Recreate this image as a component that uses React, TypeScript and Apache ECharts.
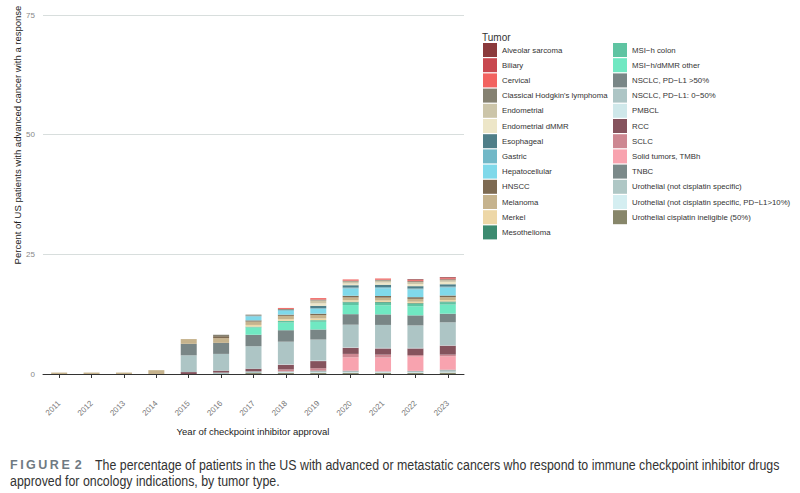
import React, { useEffect, useRef } from "react";
import * as echarts from "echarts";

const years = ["2011","2012","2013","2014","2015","2016","2017","2018","2019","2020","2021","2022","2023"];

// Legend order (alphabetical, as in the reference)
const tumorNames = [
  "Alveolar sarcoma",
  "Biliary",
  "Cervical",
  "Classical Hodgkin's lymphoma",
  "Endometrial",
  "Endometrial dMMR",
  "Esophageal",
  "Gastric",
  "Hepatocellular",
  "HNSCC",
  "Melanoma",
  "Merkel",
  "Mesothelioma",
  "MSI\u2212h colon",
  "MSI\u2212h/dMMR other",
  "NSCLC, PD\u2212L1 >50%",
  "NSCLC, PD\u2212L1: 0\u221250%",
  "PMBCL",
  "RCC",
  "SCLC",
  "Solid tumors, TMBh",
  "TNBC",
  "Urothelial (not cisplatin specific)",
  "Urothelial (not cisplatin specific, PD\u2212L1>10%)",
  "Urothelial cisplatin ineligible (50%)",
];

const tumorColors = [
  "#8b3a3c", "#c8484f", "#f2625f", "#858171", "#ccc5a9", "#ede6c8", "#4f7e88",
  "#72b8c7", "#80d9ea", "#7d6a52", "#c6b38d", "#edd7a7", "#3c8b70", "#5fc4a2",
  "#70e8c2", "#798686", "#adc5c5", "#cfe8ea", "#85535d", "#cd8791", "#f8a3af",
  "#7b8989", "#afc7c5", "#d4eef1", "#87866a",
];

// Percent of patients responding, 2011..2023
const alveolarSarcoma = [0,0,0,0,0,0,0,0,0,0,0,0.12,0.12];
const biliary =         [0,0,0,0,0,0,0,0,0,0,0,0.1,0.15];
const cervical =        [0,0,0,0,0,0,0,0.2,0.3,0.25,0.25,0.2,0.2];
const classicalHodgkin =[0,0,0,0,0,0.3,0.2,0.2,0.2,0.2,0.2,0.2,0.2];
const endometrial =     [0,0,0,0,0,0,0,0,0.6,0.4,0.4,0.4,0.35];
const endometrialDMMR = [0,0,0,0,0,0,0,0,0.5,0.35,0.45,0.45,0.5];
const esophageal =      [0,0,0,0,0,0,0,0,0.5,0.5,0.5,0.5,0.5];
const gastric =         [0,0,0,0,0,0,0.2,0.2,0.15,0.2,0.25,0.2,0.2];
const hepatocellular =  [0,0,0,0,0,0,0.8,0.8,1.0,1.5,1.6,1.6,1.65];
const hnscc =           [0,0,0,0,0,0.4,0.25,0.25,0.3,0.35,0.35,0.35,0.35];
const melanoma =        [0.3,0.3,0.3,0.8,1.0,1.0,0.7,0.7,0.7,0.6,0.6,0.6,0.6];
const merkel =          [0,0,0,0,0,0,0.35,0.35,0.35,0.3,0.3,0.3,0.3];
const mesothelioma =    [0,0,0,0,0,0,0,0,0,0.15,0.15,0.15,0.15];
const msiColon =        [0,0,0,0,0,0,0.2,0.35,0.35,0.55,0.55,0.5,0.5];
const msiOther =        [0,0,0,0,0,0,1.5,1.6,1.6,1.9,1.9,1.9,1.9];
const nsclcHigh =       [0,0,0,0,2.4,2.3,2.4,2.4,2.1,2.2,2.2,2.1,1.8];
const nsclcLow =        [0,0,0,0,3.5,3.5,4.7,4.7,4.4,4.7,4.8,4.7,4.75];
const pmbcl =           [0,0,0,0,0,0,0,0.1,0.1,0.1,0.1,0.1,0.1];
const rcc =             [0,0,0,0,0.4,0.4,0.55,1.0,1.5,1.3,1.3,1.4,1.9];
const sclc =            [0,0,0,0,0,0,0,0.4,0.5,0.7,0.6,0.3,0.35];
const solidTMBh =       [0,0,0,0,0,0,0,0,0,2.8,2.9,3.0,2.8];
const tnbc =            [0,0,0,0,0,0,0,0,0.15,0.15,0,0.1,0.15];
const urothelial =      [0,0,0,0,0,0.3,0.35,0.2,0.2,0.2,0.2,0.2,0.3];
const urothelialPDL1 =  [0,0,0,0,0,0,0,0.15,0.15,0.15,0.15,0.15,0.15];
const urothelialCis =   [0,0,0,0,0,0,0.2,0.2,0.2,0.2,0.2,0.2,0.3];

const tumorValues = [
  alveolarSarcoma, biliary, cervical, classicalHodgkin, endometrial, endometrialDMMR,
  esophageal, gastric, hepatocellular, hnscc, melanoma, merkel, mesothelioma,
  msiColon, msiOther, nsclcHigh, nsclcLow, pmbcl, rcc, sclc, solidTMBh, tnbc,
  urothelial, urothelialPDL1, urothelialCis,
];

const yTicks = [0, 25, 50, 75];

const FONT = "'Liberation Sans', Arial, Helvetica, sans-serif";

export default function App() {
  const ref = useRef<HTMLDivElement>(null);

  useEffect(() => {
    document.body.style.margin = "0";
    if (!ref.current) return;
    const chart = echarts.init(ref.current, null, { renderer: "svg" });

    // ggplot stacks the first factor level on top: add series in reverse order
    const series: any[] = [];
    for (let i = tumorNames.length - 1; i >= 0; i--) {
      series.push({
        name: tumorNames[i],
        type: "bar",
        stack: "all",
        barWidth: 16,
        data: tumorValues[i],
        itemStyle: { color: tumorColors[i] },
      });
    }

    const legendCommon = {
      orient: "vertical",
      itemWidth: 14,
      itemHeight: 14,
      itemGap: 1.2,
      padding: 0,
      icon: "rect",
      selectedMode: false,
      textStyle: { fontSize: 7.8, color: "#333", fontFamily: FONT },
    };

    const captionFont = "'Liberation Sans Narrow', 'Liberation Sans', sans-serif";

    chart.setOption({
      animation: false,
      backgroundColor: "#ffffff",
      color: tumorColors,
      grid: { left: 43, width: 421, top: 15, height: 359 },
      legend: [
        { ...legendCommon, left: 483, top: 43, data: tumorNames.slice(0, 13) },
        { ...legendCommon, left: 613, top: 43, data: tumorNames.slice(13) },
      ],
      xAxis: {
        type: "category",
        data: years,
        offset: 24,
        axisLine: { show: true, lineStyle: { color: "#333", width: 1 } },
        axisTick: { show: true, alignWithLabel: true, length: 4, lineStyle: { color: "#333" } },
        axisLabel: { rotate: 45, fontSize: 8, color: "#777", fontFamily: FONT, margin: 4 },
      },
      yAxis: {
        type: "value",
        min: 0,
        max: 75,
        interval: 25,
        axisLine: { show: false },
        axisTick: { show: false },
        axisLabel: {
          fontSize: 8,
          color: "#888",
          fontFamily: FONT,
          margin: 8,
          customValues: yTicks,
        },
        splitLine: { show: true, lineStyle: { color: "#d8dedd", width: 1 } },
      },
      graphic: [
        {
          type: "text",
          left: 482,
          top: 32,
          style: { text: "Tumor", fontSize: 10, fill: "#333", fontFamily: FONT },
        },
        {
          type: "text",
          x: 17,
          y: 135,
          rotation: Math.PI / 2,
          style: {
            text: "Percent of US patients with advanced cancer with a response",
            fontSize: 9.5,
            fill: "#222",
            fontFamily: FONT,
            align: "center",
            verticalAlign: "middle",
          },
        },
        {
          type: "text",
          x: 253,
          y: 431,
          style: {
            text: "Year of checkpoint inhibitor approval",
            fontSize: 9.5,
            fill: "#222",
            fontFamily: FONT,
            align: "center",
            verticalAlign: "middle",
          },
        },
        {
          type: "text",
          x: 10,
          y: 465,
          style: {
            text: "F\u2009I\u2009G\u2009U\u2009R\u2009E\u2009\u20092",
            fontSize: 12.5,
            fontWeight: "bold",
            fill: "#6f7a82",
            fontFamily: captionFont,
            verticalAlign: "middle",
          },
        },
        {
          type: "text",
          x: 95,
          y: 465,
          scaleX: 0.885,
          style: {
            text: "The percentage of patients in the US with advanced or metastatic cancers who respond to immune checkpoint inhibitor drugs",
            fontSize: 14,
            fill: "#333",
            fontFamily: captionFont,
            verticalAlign: "middle",
          },
        },
        {
          type: "text",
          x: 10,
          y: 481,
          scaleX: 0.885,
          style: {
            text: "approved for oncology indications, by tumor type.",
            fontSize: 14,
            fill: "#333",
            fontFamily: captionFont,
            verticalAlign: "middle",
          },
        },
      ],
      series,
    });

    return () => chart.dispose();
  }, []);

  return <div ref={ref} style={{ width: 800, height: 493 }} />;
}
